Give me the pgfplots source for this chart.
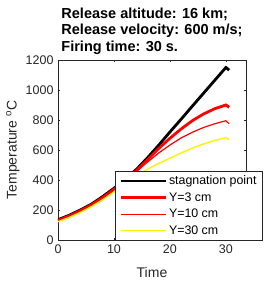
\documentclass[border=0pt]{standalone}
\usepackage{pgfplots}
\pgfplotsset{compat=1.18}
\usepackage{fontspec}
\setmainfont{Liberation Sans}
\definecolor{axgray}{rgb}{0.15,0.15,0.15}
\begin{document}
\begin{tikzpicture}
\path[use as bounding box] (0,0) rectangle (273pt,281pt);
\begin{axis}[
  at={(58pt,41pt)}, anchor=south west,
  scale only axis, width=188pt, height=180pt,
  xmin=0, xmax=33.6, ymin=0, ymax=1200,
  xtick={0,10,20,30}, ytick={0,200,...,1200},
  tick align=inside, major tick length=2.2pt,
  axis line style={axgray, line width=0.5pt},
  tick style={axgray, line width=0.5pt},
  /pgf/number format/assume math mode=true,
  /pgf/number format/set thousands separator={},
  tick label style={font=\fontsize{12.5}{14}\selectfont, text=axgray},
  xticklabel style={yshift=-1pt},
  yticklabel style={xshift=-1pt},
  xlabel={Time},
  ylabel={Temperature $^{\mathrm{o}}$C},
  label style={font=\fontsize{14}{16}\selectfont, text=axgray},
  xlabel style={at={(axis description cs:0.5,-0.179)}, anchor=center},
  ylabel style={at={(axis description cs:-0.24,0.5)}, anchor=center},
  title={Release altitude: 16 km;\\Release velocity: 600 m/s;\\Firing time: 30 s.},
  title style={font=\bfseries\fontsize{14.5}{16.3}\selectfont, align=left,
    at={(axis description cs:0.5,1)}, anchor=south, inner sep=0pt, yshift=-0.5pt},
  legend style={at={(axis description cs:0.303,0.383)}, anchor=north west,
    draw=axgray, line width=0.5pt, fill=white,
    font=\fontsize{12.4}{14}\selectfont, inner xsep=4pt, inner ysep=2.5pt,
    row sep=2.3pt, cells={anchor=west}},
  legend image code/.code={\draw[#1] (0pt,0pt) -- (45pt,0pt);},
]
\addplot[black, line width=2.8pt] coordinates {
(0,135) (2,165) (4,200) (6,240) (8,290) (10,345) (12,405) (14,470) (16,548)
(18,632) (20,720) (22,805) (24,892) (26,978) (28,1064) (30,1150) (30.6,1133)};
\addlegendentry{stagnation point}
\addplot[red, line width=2.8pt] coordinates {
(0,130) (2,160) (4,195) (6,235) (8,283) (10,338) (12,398) (14,462) (16,535)
(18,610) (20,678) (22,740) (24,795) (26,840) (28,875) (30,900) (30.6,885)};
\addlegendentry{Y=3 cm}
\addplot[red, line width=1.2pt] coordinates {
(0,128) (2,158) (4,193) (6,233) (8,280) (10,334) (12,393) (14,455) (16,520)
(18,580) (20,633) (22,680) (24,718) (26,750) (28,775) (30,795) (30.6,775)};
\addlegendentry{Y=10 cm}
\addplot[yellow, line width=1.4pt] coordinates {
(0,122) (2,150) (4,184) (6,223) (8,268) (10,320) (12,375) (14,428) (16,472)
(18,510) (20,545) (22,580) (24,612) (26,640) (28,663) (30,682) (30.6,670)};
\addlegendentry{Y=30 cm}
\end{axis}
\end{tikzpicture}
\end{document}
